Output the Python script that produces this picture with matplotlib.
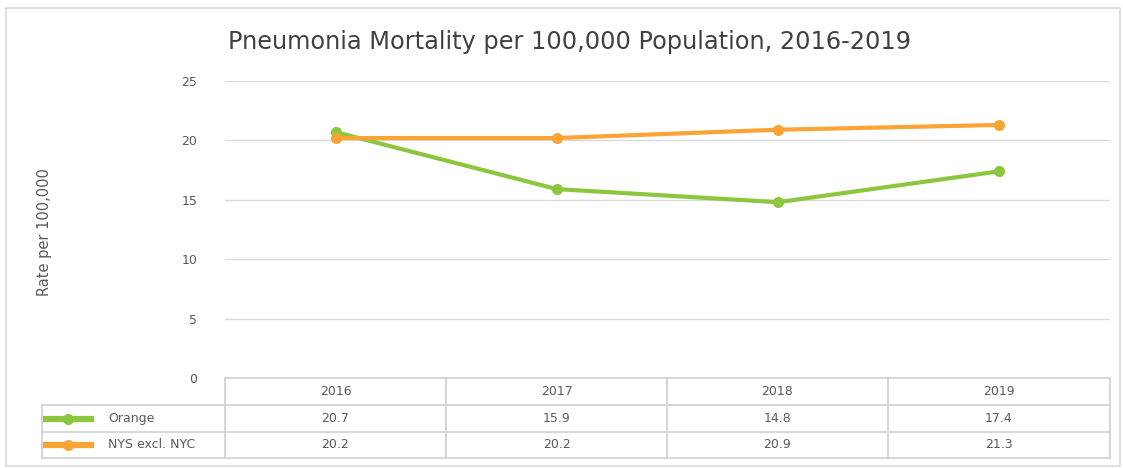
import matplotlib.pyplot as plt
from matplotlib.lines import Line2D
from matplotlib.patches import Rectangle

years = ["2016", "2017", "2018", "2019"]
orange_county = [20.7, 15.9, 14.8, 17.4]
nys_excl_nyc = [20.2, 20.2, 20.9, 21.3]
series_names = ["Orange", "NYS excl. NYC"]
series_colors = ["#8CC63E", "#F9A435"]
y_ticks = [0, 5, 10, 15, 20, 25]

W, H = 1123, 468
txt = "#595959"
grid_c = "#D9D9D9"

fig = plt.figure(figsize=(W / 100, H / 100), dpi=100)
plt.rcParams['font.family'] = ['DejaVu Sans']

def fx(px):
    return px / W

def fy(py):
    return 1 - py / H

# outer frame
fig.add_artist(Rectangle((fx(6), fy(466)), fx(1114), 458 / H, transform=fig.transFigure,
                         fill=False, edgecolor="#D9D9D9", lw=1.2))

ax = fig.add_axes([fx(225), fy(378), fx(885), (378 - 81) / H])
x = range(len(years))
ax.plot(x, orange_county, color=series_colors[0], lw=3, marker='o', ms=7, zorder=3,
        solid_capstyle='round')
ax.plot(x, nys_excl_nyc, color=series_colors[1], lw=3, marker='o', ms=7, zorder=4,
        solid_capstyle='round')
ax.set_xlim(-0.5, len(years) - 0.5)
ax.set_ylim(0, 25)
ax.set_yticks(y_ticks)
ax.set_xticks([])
ax.grid(axis='y', color=grid_c, lw=1)
ax.set_axisbelow(True)
for s in ax.spines.values():
    s.set_visible(False)
ax.tick_params(axis='y', length=0, pad=20, labelsize=9, labelcolor=txt)

fig.text(fx(570), fy(42), "Pneumonia Mortality per 100,000 Population, 2016-2019",
         ha='center', va='center', fontsize=17.3, color="#404040")
fig.text(fx(45), fy(232), "Rate per 100,000", rotation=90, ha='center', va='center',
         fontsize=10.5, color=txt)

# data table
col_edges = [225, 446, 667, 888, 1110]
row_edges = [378, 405, 432, 458]
lc = "#D0D0D0"

def hline(y, x0, x1):
    fig.add_artist(Line2D([fx(x0), fx(x1)], [fy(y), fy(y)], color=lc, lw=1.2))

def vline(xp, y0, y1):
    fig.add_artist(Line2D([fx(xp), fx(xp)], [fy(y0), fy(y1)], color=lc, lw=1.2))

hline(row_edges[0], col_edges[0], col_edges[-1])
for ry in row_edges[1:]:
    hline(ry, 42, col_edges[-1])
for cx in col_edges:
    vline(cx, row_edges[0], row_edges[-1])
vline(42, row_edges[1], row_edges[-1])

for i, yr in enumerate(years):
    cx = (col_edges[i] + col_edges[i + 1]) / 2
    fig.text(fx(cx), fy((row_edges[0] + row_edges[1]) / 2), yr, ha='center', va='center',
             fontsize=9, color=txt)

for r, (name, vals, c) in enumerate(zip(series_names, [orange_county, nys_excl_nyc], series_colors)):
    cy = (row_edges[r + 1] + row_edges[r + 2]) / 2
    fig.add_artist(Line2D([fx(46), fx(91)], [fy(cy), fy(cy)], color=c, lw=4.5,
                          transform=fig.transFigure))
    fig.add_artist(Line2D([fx(68)], [fy(cy)], color=c, marker='o', ms=7,
                          transform=fig.transFigure))
    fig.text(fx(108), fy(cy), name, ha='left', va='center', fontsize=9, color=txt)
    for i, v in enumerate(vals):
        cx = (col_edges[i] + col_edges[i + 1]) / 2
        fig.text(fx(cx), fy(cy), f"{v:.1f}", ha='center', va='center', fontsize=9, color=txt)

fig.savefig("out.png", dpi=100)
